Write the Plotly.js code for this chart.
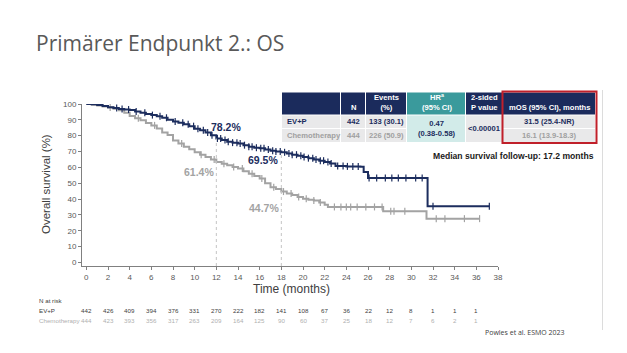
<!DOCTYPE html>
<html>
<head>
<meta charset="utf-8">
<script src="https://cdn.plot.ly/plotly-3.0.1.min.js"></script>
<style>html,body{margin:0;padding:0;background:#fff;}#chart{width:627px;height:353px;}</style>
</head>
<body>
<div id="chart"></div>
<script>
// ---------- DATA ----------
const evpTime = [0,0.5,1,1.5,2,2.5,3,3.5,4,4.5,5,5.5,6,6.5,7,7.5,8,8.5,9,9.5,10,10.5,11,11.5,12,12.5,13,13.5,14,14.5,15,15.5,16,16.5,17,17.5,18,18.5,19,19.5,20,20.5,21,21.5,22,22.5,23,24,25.3,25.6,26,31.5,37.2];
const evpSurv = [100,99.8,99.3,98.8,98,97.5,96.9,96.5,96.2,95.3,94.5,93.7,93,92.3,91.3,90.1,89,88.2,87.2,86,84.4,83.5,82,80.2,78.2,77.2,76.2,75.6,75,74,73,72.4,72,71.2,70.5,70,69.5,68.8,68,67.3,66.6,65.8,65,64.2,63.3,62.5,60.8,60.6,60.3,57,53.2,35.5,35.5];
const chemoTime = [0,0.5,1,1.5,2,2.5,3,3.5,4,4.5,5,5.5,6,6.5,7,7.5,8,8.5,9,9.5,10,10.5,11,11.5,12,12.5,13,13.5,14,14.5,15,15.5,16,16.5,17,17.5,18,18.5,19,19.5,20,20.5,21,21.5,22,22.3,27.4,31.4,36.3];
const chemoSurv = [100,99.6,99,98.5,97.8,97,96,94.5,92.5,91,89.7,88,86.5,84.5,82,80.5,77,75,73,71.5,69.5,68,66.5,65,63.3,62.3,61.3,60.2,59.2,57.6,56,54.5,52.9,50,47.5,46.3,44.7,43.5,42.5,41.3,40.2,39.6,39,37.8,36.3,35,32.2,27.6,27.6];
const evpCensor = [2.8,3.3,3.9,4.6,5.4,6.1,6.8,7.4,8.2,8.9,9.4,9.9,10.3,10.8,11.2,11.6,12.1,12.4,12.8,13.1,13.5,13.9,14.2,14.6,15.0,15.3,15.7,16.1,16.4,16.8,17.2,17.5,17.9,18.3,18.7,19.0,19.4,19.8,20.1,20.5,20.9,21.2,21.6,21.9,22.3,22.6,23.2,23.7,24.1,24.6,25.1,26.1,26.8,27.6,28.2,28.8,29.5,30.4,31.0,32.0,37.2];
const chemoCensor = [2.2,4.8,6.3,8.8,10.6,11.8,12.7,13.6,14.4,15.3,16.2,17.3,18.2,18.9,19.6,20.3,21.0,21.6,22.9,23.5,24.0,24.4,25.0,25.8,26.6,27.3,28.1,28.4,29.4,32.3,33.1,34.9,36.3];
const landmarkMonths = [12, 18];
const evpLandmarkLabels = ["78.2%", "69.5%"];
const chemoLandmarkLabels = ["61.4%", "44.7%"];
const riskTimes = [0,2,4,6,8,10,12,14,16,18,20,22,24,26,28,30,32,34,36];
const evpRisk = [442,426,409,394,376,331,270,222,182,141,108,67,36,22,12,8,1,1,1];
const chemoRisk = [444,423,393,356,317,263,209,164,125,90,60,37,25,18,12,7,6,2,1];
const tableHeader = ["", "N", "Events<br>(%)", "HR<sup>a</sup><br>(95% CI)", "2-sided<br>P value", "mOS (95% CI), months"];
const tableEvp = ["EV+P", "442", "133 (30.1)", "", "", "31.5 (25.4-NR)"];
const tableChemo = ["Chemotherapy", "444", "226 (50.9)", "", "", "16.1 (13.9-18.3)"];
const tableHR = "0.47<br>(0.38-0.58)";
const tableP = "<0.00001";

// ---------- helpers ----------
const W = 627, H = 353, L = 82, R = 129, T = 104, B = 87;
const PW = W - L - R, PH = H - T - B;
const px = x => (x - L) / PW;
const py = y => (H - B - y) / PH;
function stepAt(times, surv, t) {
  let v = surv[0];
  for (let i = 0; i < times.length; i++) { if (times[i] <= t) v = surv[i]; else break; }
  return v;
}

const NAVY = '#1c2d5e', GREY = '#a3a3a3', FONT = 'Liberation Sans, Arial, sans-serif';

const traces = [
  {x: chemoTime, y: chemoSurv, mode: 'lines', line: {shape: 'hv', color: GREY, width: 2}, hoverinfo: 'skip'},
  {x: chemoCensor, y: chemoCensor.map(t => stepAt(chemoTime, chemoSurv, t)), mode: 'markers',
   marker: {symbol: 'line-ns-open', size: 5, color: GREY, line: {color: GREY, width: 1.2}}, hoverinfo: 'skip'},
  {x: evpTime, y: evpSurv, mode: 'lines', line: {shape: 'hv', color: NAVY, width: 2}, hoverinfo: 'skip'},
  {x: evpCensor, y: evpCensor.map(t => stepAt(evpTime, evpSurv, t)), mode: 'markers',
   marker: {symbol: 'line-ns-open', size: 5, color: NAVY, line: {color: NAVY, width: 1.2}}, hoverinfo: 'skip'}
];

const shapes = [];
const annotations = [];

// landmark dotted lines
landmarkMonths.forEach(m => {
  shapes.push({type: 'line', xref: 'x', yref: 'y', x0: m, x1: m, y0: -2.3, y1: stepAt(evpTime, evpSurv, m),
    line: {color: '#c4c4c4', width: 1, dash: 'dot'}});
});

// landmark labels
const evpLabPos = [[226, 127], [263, 160]];
const chemoLabPos = [[199, 172], [264, 208]];
evpLandmarkLabels.forEach((t, i) => annotations.push({xref: 'paper', yref: 'paper', x: px(evpLabPos[i][0]), y: py(evpLabPos[i][1]),
  text: '<b>' + t + '</b>', showarrow: false, font: {family: FONT, size: 10.5, color: NAVY}, xanchor: 'center', yanchor: 'middle'}));
chemoLandmarkLabels.forEach((t, i) => annotations.push({xref: 'paper', yref: 'paper', x: px(chemoLabPos[i][0]), y: py(chemoLabPos[i][1]),
  text: '<b>' + t + '</b>', showarrow: false, font: {family: FONT, size: 10.5, color: GREY}, xanchor: 'center', yanchor: 'middle'}));

// table
const colX = [282, 341, 366, 407, 466, 503, 596];
const rowY = [92.5, 114.5, 128, 142];
for (let c = 0; c < 6; c++) {
  shapes.push({type: 'rect', xref: 'paper', yref: 'paper', x0: px(colX[c]), x1: px(colX[c + 1] - 1), y0: py(rowY[0]), y1: py(rowY[1]),
    fillcolor: c === 3 ? '#3a9a9c' : '#1b2b5c', line: {width: 0}, layer: 'above'});
  if (c === 3 || c === 4) {
    shapes.push({type: 'rect', xref: 'paper', yref: 'paper', x0: px(colX[c]), x1: px(colX[c + 1] - 1), y0: py(rowY[1] + 1), y1: py(rowY[3]),
      fillcolor: c === 3 ? '#d2ebe9' : '#e9e9ea', line: {width: 0}, layer: 'above'});
  } else {
    for (let r = 1; r < 3; r++) {
      shapes.push({type: 'rect', xref: 'paper', yref: 'paper', x0: px(colX[c]), x1: px(colX[c + 1] - 1), y0: py(rowY[r] + 1), y1: py(rowY[r + 1]),
        fillcolor: '#e9e9ea', line: {width: 0}, layer: 'above'});
    }
  }
}
shapes.push({type: 'rect', xref: 'paper', yref: 'paper', x0: px(502.5), x1: px(596.5), y0: py(91.5), y1: py(143),
  line: {color: '#c0202a', width: 2}, layer: 'above'});

const tf = col => ({family: FONT, size: 7.6, color: col});
tableHeader.forEach((t, c) => {
  if (!t) return;
  annotations.push({xref: 'paper', yref: 'paper', x: px((colX[c] + colX[c + 1]) / 2), y: py(113.5), text: '<b>' + t + '</b>',
    showarrow: false, xanchor: 'center', yanchor: 'bottom', font: tf('#ffffff')});
});
[tableEvp, tableChemo].forEach((row, r) => {
  const col = r === 0 ? NAVY : '#a0a0a0';
  const yc = (rowY[r + 1] + rowY[r + 2]) / 2 + 0.5;
  row.forEach((t, c) => {
    if (!t) return;
    const left = c === 0;
    annotations.push({xref: 'paper', yref: 'paper', x: left ? px(colX[0] + 3) : px((colX[c] + colX[c + 1]) / 2), y: py(yc),
      text: '<b>' + t + '</b>', showarrow: false, xanchor: left ? 'left' : 'center', yanchor: 'middle', font: tf(col)});
  });
});
annotations.push({xref: 'paper', yref: 'paper', x: px((colX[3] + colX[4]) / 2), y: py(128.5), text: '<b>' + tableHR + '</b>',
  showarrow: false, xanchor: 'center', yanchor: 'middle', font: tf(NAVY)});
annotations.push({xref: 'paper', yref: 'paper', x: px((colX[4] + colX[5]) / 2), y: py(128.5), text: '<b>' + tableP + '</b>',
  showarrow: false, xanchor: 'center', yanchor: 'middle', font: tf(NAVY)});
annotations.push({xref: 'paper', yref: 'paper', x: px(596), y: py(156), text: '<b>Median survival follow-up: 17.2 months</b>',
  showarrow: false, xanchor: 'right', yanchor: 'middle', font: {family: FONT, size: 8.6, color: '#1a1a1a'}});

// axis titles
annotations.push({xref: 'paper', yref: 'paper', x: px(46), y: py(184), text: 'Overall survival (%)', textangle: -90,
  showarrow: false, xanchor: 'center', yanchor: 'middle', font: {family: FONT, size: 11.5, color: '#404040'}});
annotations.push({xref: 'paper', yref: 'paper', x: px(291), y: py(289), text: 'Time (months)',
  showarrow: false, xanchor: 'center', yanchor: 'middle', font: {family: FONT, size: 12, color: '#404040'}});

// risk table
const rf = col => ({family: FONT, size: 6.2, color: col});
annotations.push({xref: 'paper', yref: 'paper', x: px(37), y: py(300), text: 'N at risk', showarrow: false, xanchor: 'left', yanchor: 'middle', font: rf('#404040')});
annotations.push({xref: 'paper', yref: 'paper', x: px(37), y: py(310), text: 'EV+P', showarrow: false, xanchor: 'left', yanchor: 'middle', font: rf('#404040')});
annotations.push({xref: 'paper', yref: 'paper', x: px(37), y: py(320), text: 'Chemotherapy', showarrow: false, xanchor: 'left', yanchor: 'middle', font: rf('#b0b0b0')});
riskTimes.forEach((t, i) => {
  annotations.push({xref: 'x', yref: 'paper', x: t, y: py(310), text: String(evpRisk[i]), showarrow: false, xanchor: 'center', yanchor: 'middle', font: rf('#404040')});
  annotations.push({xref: 'x', yref: 'paper', x: t, y: py(320), text: String(chemoRisk[i]), showarrow: false, xanchor: 'center', yanchor: 'middle', font: rf('#b0b0b0')});
});

// slide title and source
annotations.push({xref: 'paper', yref: 'paper', x: px(34), y: py(43), text: 'Primärer Endpunkt 2.: OS', showarrow: false,
  xanchor: 'left', yanchor: 'middle', font: {family: 'Open Sans, Noto Sans, sans-serif', size: 21, color: '#595959'}});
annotations.push({xref: 'paper', yref: 'paper', x: px(525), y: py(332), text: 'Powles et al. ESMO 2023', showarrow: false,
  xanchor: 'center', yanchor: 'middle', font: {family: 'Open Sans, Noto Sans, sans-serif', size: 7, color: '#404040'}});
shapes.push({type: 'line', xref: 'paper', yref: 'paper', x0: px(602.5), x1: px(602.5), y0: py(90), y1: py(330),
  line: {color: '#dcdcdc', width: 1}});

const layout = {
  width: W, height: H,
  margin: {l: L, r: R, t: T, b: B, pad: 0},
  paper_bgcolor: '#ffffff', plot_bgcolor: '#ffffff',
  showlegend: false,
  font: {family: FONT, color: '#595959'},
  xaxis: {range: [-0.4, 38], tickvals: riskTimes.concat([38]), ticks: 'outside', ticklen: 3, tickcolor: '#808080',
    showline: true, linecolor: '#808080', linewidth: 1, showgrid: false, zeroline: false,
    tickfont: {family: FONT, size: 8, color: '#595959'}, fixedrange: true},
  yaxis: {range: [-2.3, 100], tickvals: [0,10,20,30,40,50,60,70,80,90,100], ticks: 'outside', ticklen: 3, tickcolor: '#808080',
    showline: true, linecolor: '#808080', linewidth: 1, showgrid: false, zeroline: false,
    tickfont: {family: FONT, size: 8, color: '#595959'}, fixedrange: true},
  shapes: shapes,
  annotations: annotations
};

Plotly.newPlot('chart', traces, layout, {displayModeBar: false, staticPlot: true});
</script>
</body>
</html>
